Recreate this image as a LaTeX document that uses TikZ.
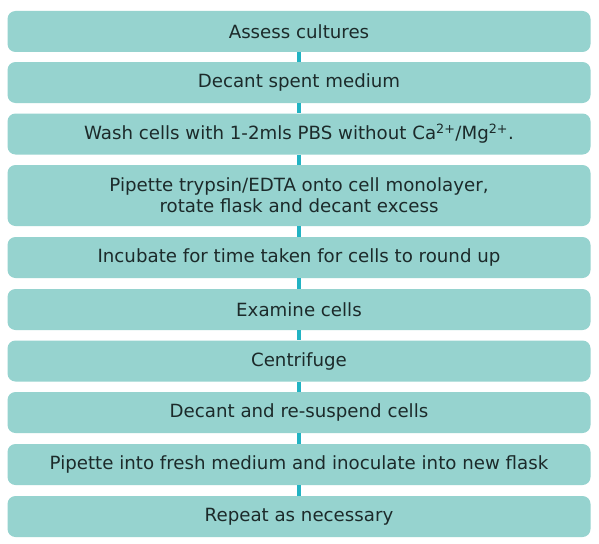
\documentclass[tikz,border=0pt]{standalone}
\usepackage{fontspec}
\setmainfont{DejaVu Sans}
\definecolor{boxfill}{HTML}{96D3CF}
\definecolor{linkcol}{HTML}{22B3C3}
\definecolor{txtcol}{HTML}{1C2A2A}
\begin{document}
\begin{tikzpicture}[x=1pt,y=-1pt,
  stepbox/.style={rectangle, rounded corners=8pt, fill=boxfill, draw=none,
    minimum width=583pt, inner sep=0pt, align=center, text=txtcol,
    font=\fontsize{18.2}{21}\selectfont},
  link/.style={draw=linkcol, line width=4.5pt}]
\useasboundingbox (0,0) rectangle (599,543);
\fill[white] (0,0) rectangle (599,543);
\node[stepbox, minimum height=41pt] (b1) at (299,31.5) {Assess cultures};
\node[stepbox, minimum height=41pt] (b2) at (299,82.5) {Decant spent medium};
\node[stepbox, minimum height=41pt] (b3) at (299,134) {Wash cells with 1-2mls PBS without Ca\textsuperscript{2+}/Mg\textsuperscript{2+}.};
\node[stepbox, minimum height=61pt] (b4) at (299,195.5) {Pipette trypsin/EDTA onto cell monolayer,\\rotate flask and decant excess};
\node[stepbox, minimum height=41pt] (b5) at (299,257.5) {Incubate for time taken for cells to round up};
\node[stepbox, minimum height=41pt] (b6) at (299,309.5) {Examine cells};
\node[stepbox, minimum height=41pt] (b7) at (299,361) {Centrifuge};
\node[stepbox, minimum height=41pt] (b8) at (299,412.5) {Decant and re-suspend cells};
\node[stepbox, minimum height=41pt] (b9) at (299,464.5) {Pipette into fresh medium and inoculate into new flask};
\node[stepbox, minimum height=41pt] (b10) at (299,516.5) {Repeat as necessary};
\foreach \a/\b in {b1/b2,b2/b3,b3/b4,b4/b5,b5/b6,b6/b7,b7/b8,b8/b9,b9/b10}
  \draw[link] (\a.south) -- (\b.north);
\end{tikzpicture}
\end{document}
